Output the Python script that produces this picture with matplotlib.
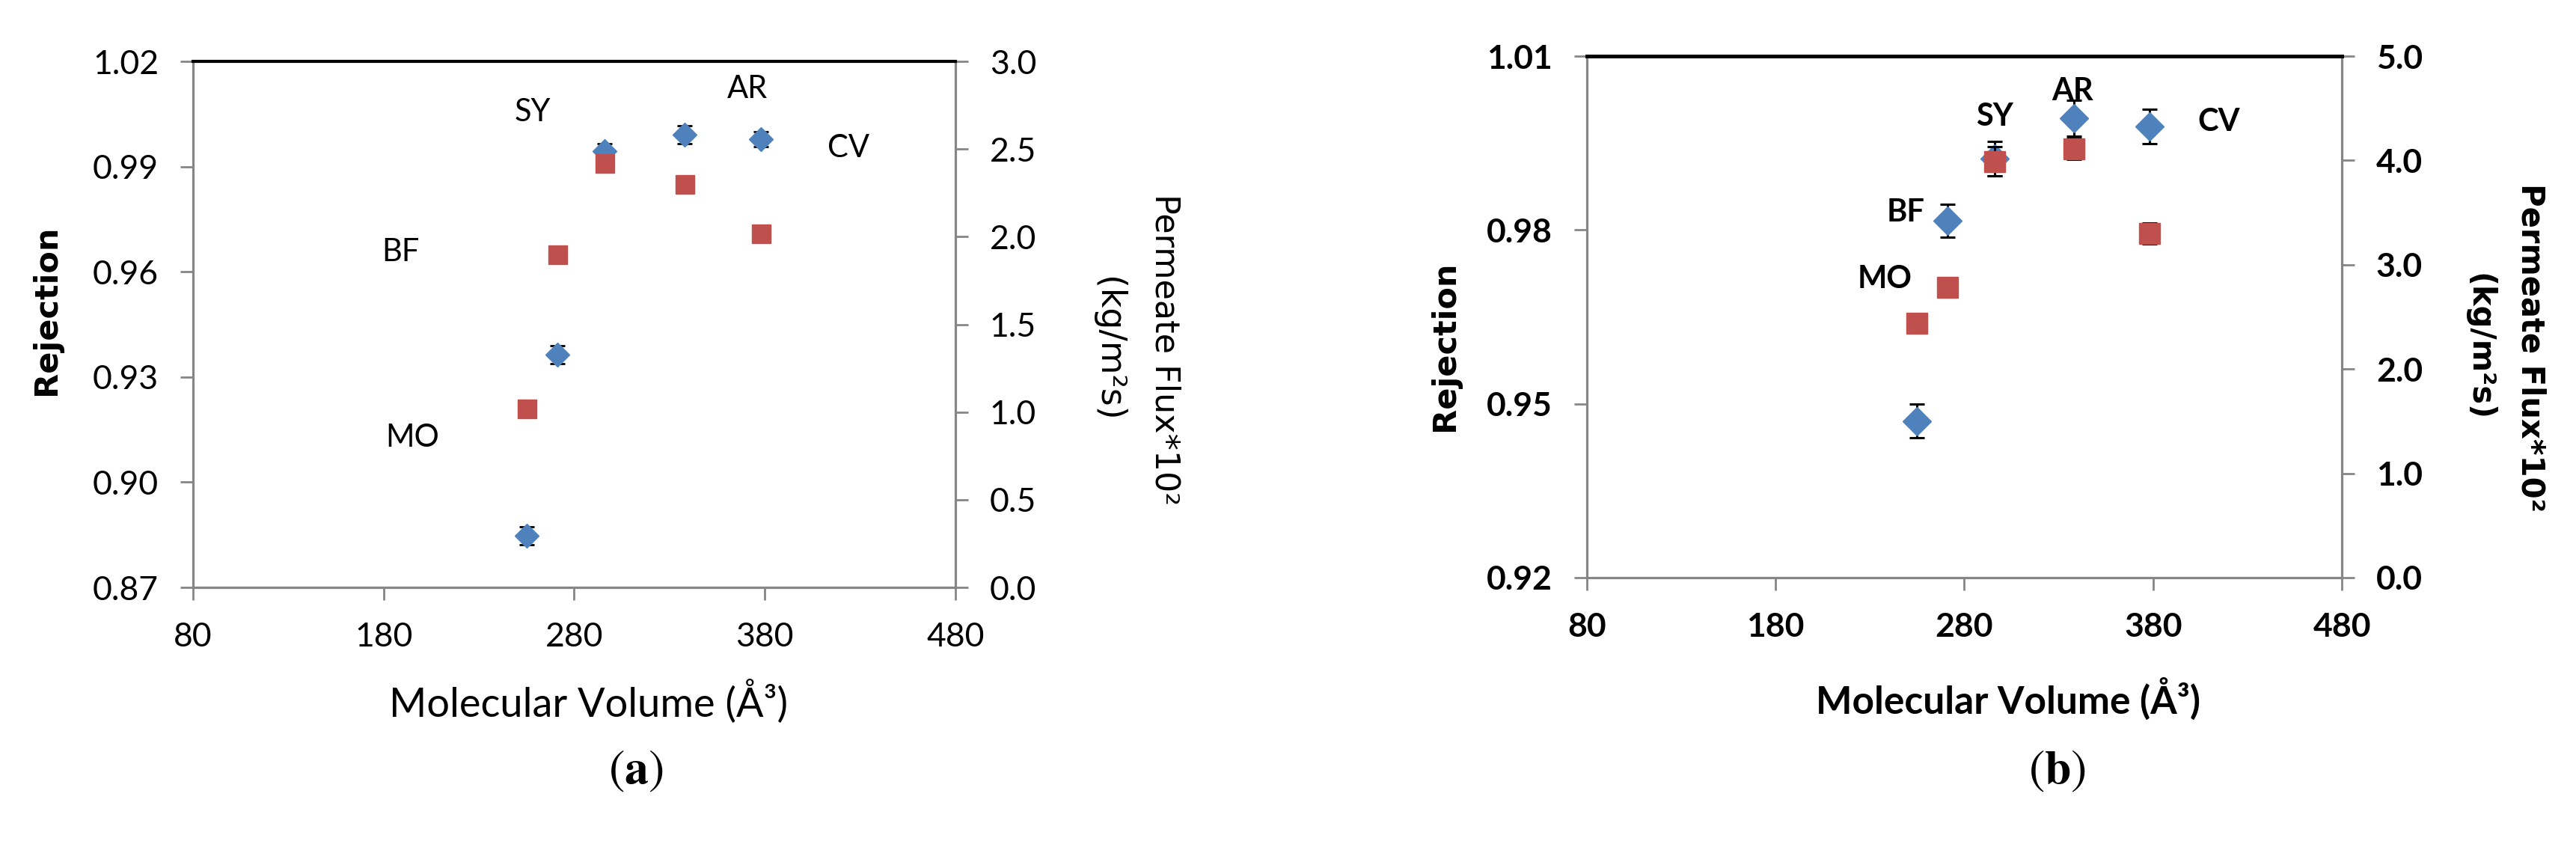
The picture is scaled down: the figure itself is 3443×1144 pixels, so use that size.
import matplotlib
matplotlib.use('Agg')
import matplotlib.pyplot as plt

# --- data ---
compounds = ['MO', 'BF', 'SY', 'AR', 'CV']
mol_volume = [255, 271, 296, 338, 378]

# panel (a)
rej_a = [0.8847, 0.9364, 0.9944, 0.9991, 0.9978]
rej_a_err = [0.0025, 0.0025, 0.0022, 0.0025, 0.0022]
flux_a = [1.02, 1.90, 2.42, 2.30, 2.02]
lbl_x_a = [195, 189, 258, 371, 424]
lbl_y_a = [0.9127, 0.9655, 1.0054, 1.0122, 0.9952]

# panel (b)
rej_b = [0.9470, 0.9816, 0.9923, 0.9993, 0.9979]
rej_b_err = [0.0029, 0.0029, 0.0030, 0.0031, 0.0030]
flux_b = [2.44, 2.78, 3.99, 4.11, 3.30]
flux_b_err = [0.03, 0.09, 0.14, 0.10, 0.10]
lbl_x_b = [238, 249, 296, 337.5, 415]
lbl_y_b = [0.9715, 0.9830, 0.9995, 1.0039, 0.9986]

x_ticks = [80, 180, 280, 380, 480]
y_ticks_a = [0.87, 0.90, 0.93, 0.96, 0.99, 1.02]
y2_ticks_a = [0.0, 0.5, 1.0, 1.5, 2.0, 2.5, 3.0]
y_ticks_b = [0.92, 0.95, 0.98, 1.01]
y2_ticks_b = [0.0, 1.0, 2.0, 3.0, 4.0, 5.0]

BLUE = '#4F81BD'
RED = '#C0504D'
GREY = '#868686'

plt.rcParams['mathtext.fontset'] = 'stix'

fig = plt.figure(figsize=(34.43, 11.44), dpi=100)


def style_axes(ax, ax2, top_lw, bold):
    for s in ['top', 'right']:
        ax.spines[s].set_visible(False)
    for s in ['left', 'bottom']:
        ax2.spines[s].set_visible(False)
    ax2.spines['top'].set_color('black')
    ax2.spines['top'].set_linewidth(top_lw)
    for sp in [ax.spines['left'], ax.spines['bottom'], ax2.spines['right']]:
        sp.set_color(GREY)
        sp.set_linewidth(2.3)
    for a in [ax, ax2]:
        a.tick_params(direction='out', length=12, width=2, color=GREY,
                      labelsize=32, pad=21, labelfontfamily='Lato')
        if bold:
            for t in a.get_xticklabels() + a.get_yticklabels():
                t.set_fontweight('bold')


# ---------------- panel (a) ----------------
ax = fig.add_axes([0.0749, 0.3138, 0.2960, 0.6145])
ax2 = ax.twinx()
ax.errorbar(mol_volume, rej_a, yerr=rej_a_err, fmt='D', color=BLUE, ms=16,
            ecolor='black', elinewidth=2, capsize=7, capthick=2, zorder=3)
ax2.plot(mol_volume, flux_a, 's', color=RED, ms=18, zorder=3)
ax.set_xlim(80, 480)
ax.set_ylim(0.87, 1.02)
ax2.set_ylim(0.0, 3.0)
ax.set_xticks(x_ticks)
ax.set_yticks(y_ticks_a)
ax.set_yticklabels([f'{v:.2f}' for v in y_ticks_a])
ax2.set_yticks(y2_ticks_a)
ax2.set_yticklabels([f'{v:.1f}' for v in y2_ticks_a])
style_axes(ax, ax2, 3.0, False)
for name, lx, ly in zip(compounds, lbl_x_a, lbl_y_a):
    ax.text(lx, ly, name, fontsize=30, family='Lato', ha='center', va='center')

fig.text(62 / 3443, 1 - 414 / 1144, 'Rejection', rotation=90, fontsize=31,
         fontweight='bold', family='DejaVu Sans', ha='center', va='center')
fig.text(786 / 3443, 1 - 937 / 1144, 'Molecular Volume (Å³)', fontsize=39,
         family='Lato', ha='center', va='center')
fig.text(1557 / 3443, 1 - 467 / 1144, 'Permeate Flux*10²', rotation=270,
         fontsize=32, family='DejaVu Sans', ha='center', va='center')
fig.text(1480 / 3443, 1 - 467 / 1144, '(kg/m²s)', rotation=270,
         fontsize=33, family='DejaVu Sans', ha='center', va='center')
fig.text(850 / 3443, 1 - 1030 / 1144, r'$(\mathbf{a})$', fontsize=46,
         ha='center', va='center')

# ---------------- panel (b) ----------------
bx = fig.add_axes([0.6160, 0.3252, 0.2931, 0.6092])
bx2 = bx.twinx()
bx.errorbar(mol_volume, rej_b, yerr=rej_b_err, fmt='D', color=BLUE, ms=19,
            ecolor='black', elinewidth=2.2, capsize=7, capthick=2.2, zorder=3)
bx2.errorbar(mol_volume, flux_b, yerr=flux_b_err, fmt='s', color=RED, ms=20,
             ecolor='black', elinewidth=2.2, capsize=7, capthick=2.2, zorder=3)
bx.set_xlim(80, 480)
bx.set_ylim(0.92, 1.01)
bx2.set_ylim(0.0, 5.0)
bx.set_xticks(x_ticks)
bx.set_yticks(y_ticks_b)
bx.set_yticklabels([f'{v:.2f}' for v in y_ticks_b])
bx2.set_yticks(y2_ticks_b)
bx2.set_yticklabels([f'{v:.1f}' for v in y2_ticks_b])
style_axes(bx, bx2, 3.6, True)
for name, lx, ly in zip(compounds, lbl_x_b, lbl_y_b):
    bx.text(lx, ly, name, fontsize=30, family='Lato', fontweight='bold',
            ha='center', va='center')

fig.text(1931 / 3443, 1 - 462 / 1144, 'Rejection', rotation=90, fontsize=31,
         fontweight='bold', family='DejaVu Sans', ha='center', va='center')
fig.text(2684 / 3443, 1 - 934 / 1144, 'Molecular Volume (Å³)', fontsize=37,
         family='Lato', fontweight='bold', ha='center', va='center')
fig.text(3383 / 3443, 1 - 464 / 1144, 'Permeate Flux*10²', rotation=270,
         fontsize=30, fontweight='bold', family='DejaVu Sans',
         ha='center', va='center')
fig.text(3313 / 3443, 1 - 464 / 1144, '(kg/m²s)', rotation=270,
         fontsize=30, fontweight='bold', family='DejaVu Sans',
         ha='center', va='center')
fig.text(2750 / 3443, 1 - 1030 / 1144, r'$(\mathbf{b})$', fontsize=46,
         ha='center', va='center')

fig.savefig('out.png', dpi=100, facecolor='white')
